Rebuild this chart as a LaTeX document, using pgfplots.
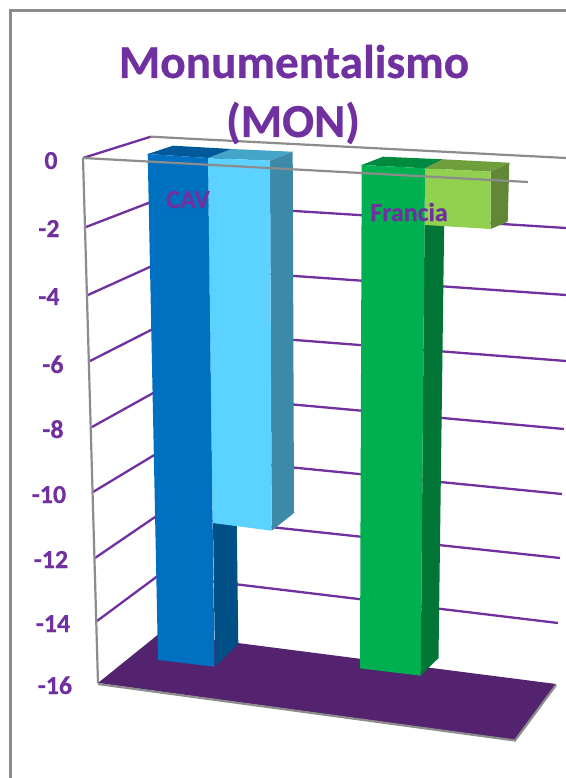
\documentclass[border=0pt]{standalone}
\usepackage{pgfplots}
\pgfplotsset{compat=1.18}
\usepackage{fontspec}
\setmainfont{Carlito}[BoldFont={Carlito Bold},BoldFeatures={FakeBold=0.5}]
\definecolor{chartpurple}{HTML}{7030A0}
\definecolor{floorpurple}{HTML}{54236F}
\definecolor{framegray}{HTML}{8C8C8C}
\definecolor{cavfront}{HTML}{0070C0}
\definecolor{cavtop}{HTML}{005A9A}
\definecolor{cavside}{HTML}{004F86}
\definecolor{skyfront}{HTML}{5BD2FF}
\definecolor{skytop}{HTML}{45A5C8}
\definecolor{skyside}{HTML}{3C8AA8}
\definecolor{frafront}{HTML}{00B050}
\definecolor{fratop}{HTML}{008A3F}
\definecolor{fraside}{HTML}{007535}
\definecolor{limefront}{HTML}{92D050}
\definecolor{limetop}{HTML}{6F9E3D}
\definecolor{limeside}{HTML}{628736}
\pgfplotsset{
  face/.style={draw=none,fill=#1,forget plot},
  grid line/.style={chartpurple,line width=2.3bp,forget plot},
  frame line/.style={framegray,line width=2.2bp,forget plot},
}
\tikzset{
  tick text/.style={font=\fontsize{26}{30}\selectfont\bfseries,text=chartpurple,inner sep=0pt,anchor=base},
  title text/.style={font=\fontsize{47.5}{57}\selectfont\bfseries,text=chartpurple,inner sep=0pt,anchor=base},
}
\begin{document}
\begin{tikzpicture}[x=1bp,y=1bp]
\begin{axis}[
  scale only axis,width=566bp,height=778bp,
  xmin=0,xmax=566,ymin=0,ymax=778,y dir=reverse,
  axis lines=none,clip=true,
]
% page background and chart area border
\addplot[face=white] coordinates {(0,0)(566,0)(566,778)(0,778)} -- cycle;
\addplot[frame line] coordinates {(10.5,778)(10.5,10.5)(566,10.5)};

% gridlines: left wall, then back wall, one polyline per tick value
\addplot[grid line] coordinates {(83,158)(150.7,136.7)};
\addplot[grid line] coordinates {(86,227)(151,202)(566,228)};
\addplot[grid line] coordinates {(88,295)(152,266)(566,295)};
\addplot[grid line] coordinates {(90,361)(153,329)(566,361)};
\addplot[grid line] coordinates {(92,427)(155,392)(564,429)};
\addplot[grid line] coordinates {(93,492)(156,454)(562,494)};
\addplot[grid line] coordinates {(95,558)(158,515)(560,558)};
\addplot[grid line] coordinates {(97,621)(159,575)(558,623)};

% top edge of the back wall, left and bottom-front edges of the frame
\addplot[frame line] coordinates {(150.7,136.7)(566,158)};
\addplot[frame line] coordinates {(83,158)(98,683)};

% floor
\addplot[face=floorpurple] coordinates {(98,683)(160,633)(556,684)(515,740)} -- cycle;
\addplot[frame line] coordinates {(98,684)(515,740.5)(556,685)};

% CAV, first series (-15.3)
\addplot[face=cavtop] coordinates {(147.7,154)(173,145.7)(231.7,149)(208,158)} -- cycle;
\addplot[face=cavside] coordinates {(208,158)(232,149)(238.3,644)(215,666.7)} -- cycle;
\addplot[face=cavfront] coordinates {(147.7,154)(208,158)(214.5,666.7)(158,660)} -- cycle;

% CAV, second series (-11)
\addplot[face=skytop] coordinates {(208,158)(231.7,149)(292.7,151.7)(270,160.7)} -- cycle;
\addplot[face=skyside] coordinates {(270,160.7)(292.7,151.7)(294,513)(271.7,530.7)} -- cycle;
\addplot[face=skyfront] coordinates {(208,158)(270,160.7)(271.7,530.7)(212.7,523)} -- cycle;

% Francia, first series (-15.5)
\addplot[face=fratop] coordinates {(361.7,165)(383,156.7)(443,159.3)(425,168.3)} -- cycle;
\addplot[face=fraside] coordinates {(425,168.3)(445,160)(438.5,658)(420.7,675.7)} -- cycle;
\addplot[face=frafront] coordinates {(361.7,165)(425,168.3)(420.7,675.7)(360,668.3)} -- cycle;

% Francia, second series (-2)
\addplot[face=limetop] coordinates {(425,168.3)(443,159.3)(509.3,162.7)(490.7,171.7)} -- cycle;
\addplot[face=limeside] coordinates {(490.7,171.7)(509.3,162.7)(507.7,221.7)(490.7,229)} -- cycle;
\addplot[face=limefront] coordinates {(425,168.3)(490.7,171.7)(490.7,229)(425,225)} -- cycle;

% front top edge passes over the bars
\addplot[frame line] coordinates {(83,158)(528,182)};

% value axis labels
\node[tick text] at (axis cs:51,169) {0};
\node[tick text] at (axis cs:49,237) {-2};
\node[tick text] at (axis cs:49,305) {-4};
\node[tick text] at (axis cs:53,373) {-6};
\node[tick text] at (axis cs:53,438) {-8};
\node[tick text] at (axis cs:49,503) {-10};
\node[tick text] at (axis cs:51,568) {-12};
\node[tick text] at (axis cs:53,632) {-14};
\node[tick text] at (axis cs:55,694) {-16};

% category labels
\node[tick text] at (axis cs:188,208) {CAV};
\node[tick text] at (axis cs:409,221) {Francia};

% title
\node[title text] at (axis cs:294,78) {Monumentalismo};
\node[title text] at (axis cs:293,137) {(MON)};
\end{axis}
\end{tikzpicture}
\end{document}
